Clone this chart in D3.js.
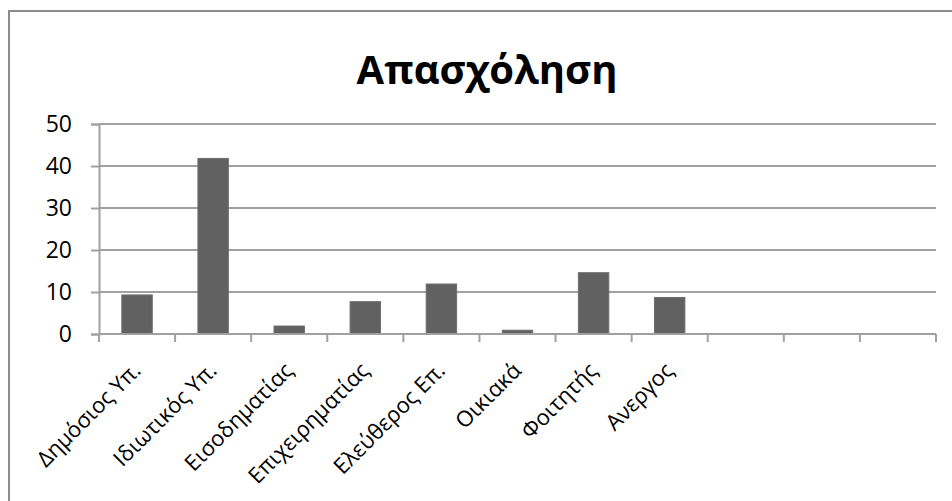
<!DOCTYPE html>
<html>
<head>
<meta charset="utf-8">
<script src="https://cdn.jsdelivr.net/npm/d3@7"></script>
<style>
  html, body { margin: 0; padding: 0; background: #fff; }
  svg { display: block; }
</style>
</head>
<body>
<svg id="chart" width="952" height="501"></svg>
<script>
// Occupation distribution
const title = "Απασχόληση";
const categories = [
  "Δημόσιος Υπ.", "Ιδιωτικός Υπ.", "Εισοδηματίας", "Επιχειρηματίας",
  "Ελεύθερος Επ.", "Οικιακά", "Φοιτητής", "Ανεργος", "", " ", "  "
];
const values = [9.3, 41.8, 1.9, 7.7, 11.9, 0.9, 14.6, 8.7, null, null, null];
const yTicks = [0, 10, 20, 30, 40, 50];

const font = "'Open Sans', 'DejaVu Sans', sans-serif";
const svg = d3.select("#chart");

// Chart frame (extends past the right and bottom edges)
svg.append("rect")
  .attr("x", 9).attr("y", 11)
  .attr("width", 1000).attr("height", 600)
  .attr("fill", "#fff")
  .attr("stroke", "#8c8c8c").attr("stroke-width", 2);

const plot = { left: 99, right: 936, top: 124, bottom: 334 };

const x = d3.scaleBand()
  .domain(categories)
  .range([plot.left, plot.right])
  .paddingInner(0.6).paddingOuter(0.3);

const xOuter = d3.scaleBand()
  .domain(categories)
  .range([plot.left, plot.right]);

const y = d3.scaleLinear()
  .domain([0, 50])
  .range([plot.bottom, plot.top]);

// Horizontal gridlines
svg.append("g")
  .selectAll("line")
  .data(yTicks)
  .join("line")
  .attr("x1", plot.left).attr("x2", plot.right)
  .attr("y1", d => y(d)).attr("y2", d => y(d))
  .attr("stroke", "#a0a0a0").attr("stroke-width", 2);

// Y axis
const yAxis = svg.append("g")
  .attr("transform", `translate(${plot.left},0)`)
  .call(d3.axisLeft(y).tickValues(yTicks).tickSize(8).tickPadding(19));
yAxis.select(".domain").attr("stroke", "#a0a0a0").attr("stroke-width", 2);
yAxis.selectAll(".tick line").attr("stroke", "#a0a0a0").attr("stroke-width", 2);
yAxis.selectAll(".tick text")
  .attr("fill", "#000")
  .style("font-family", font)
  .style("font-size", "23px");

// Bars
svg.append("g")
  .selectAll("rect")
  .data(categories.map((c, i) => ({ c, v: values[i] })).filter(d => d.v != null))
  .join("rect")
  .attr("x", d => x(d.c))
  .attr("width", x.bandwidth())
  .attr("y", d => y(d.v))
  .attr("height", d => y(0) - y(d.v))
  .attr("fill", "#616161")
  .attr("stroke", "#6e6e6e").attr("stroke-width", 1);

// X axis line with category boundary ticks
const xg = svg.append("g");
xg.append("line")
  .attr("x1", plot.left).attr("x2", plot.right)
  .attr("y1", plot.bottom).attr("y2", plot.bottom)
  .attr("stroke", "#a0a0a0").attr("stroke-width", 2);
const bounds = categories.map(c => xOuter(c)).concat([plot.right]);
xg.selectAll("line.tick")
  .data(bounds)
  .join("line")
  .attr("class", "tick")
  .attr("x1", d => d).attr("x2", d => d)
  .attr("y1", plot.bottom).attr("y2", plot.bottom + 8)
  .attr("stroke", "#a0a0a0").attr("stroke-width", 2);

// Rotated category labels
xg.selectAll("text")
  .data(categories.filter(c => c.trim() !== ""))
  .join("text")
  .attr("transform", d => {
    const cx = xOuter(d) + xOuter.bandwidth() / 2;
    return `translate(${cx + 5},${plot.bottom + 38}) rotate(-45)`;
  })
  .attr("text-anchor", "end")
  .attr("fill", "#000")
  .style("font-family", font)
  .style("font-size", "22px")
  .text(d => d);

// Title
svg.append("text")
  .attr("x", 487).attr("y", 84)
  .attr("text-anchor", "middle")
  .attr("fill", "#000")
  .style("font-family", font)
  .style("font-weight", "bold")
  .style("font-size", "40px")
  .text(title);
</script>
</body>
</html>
